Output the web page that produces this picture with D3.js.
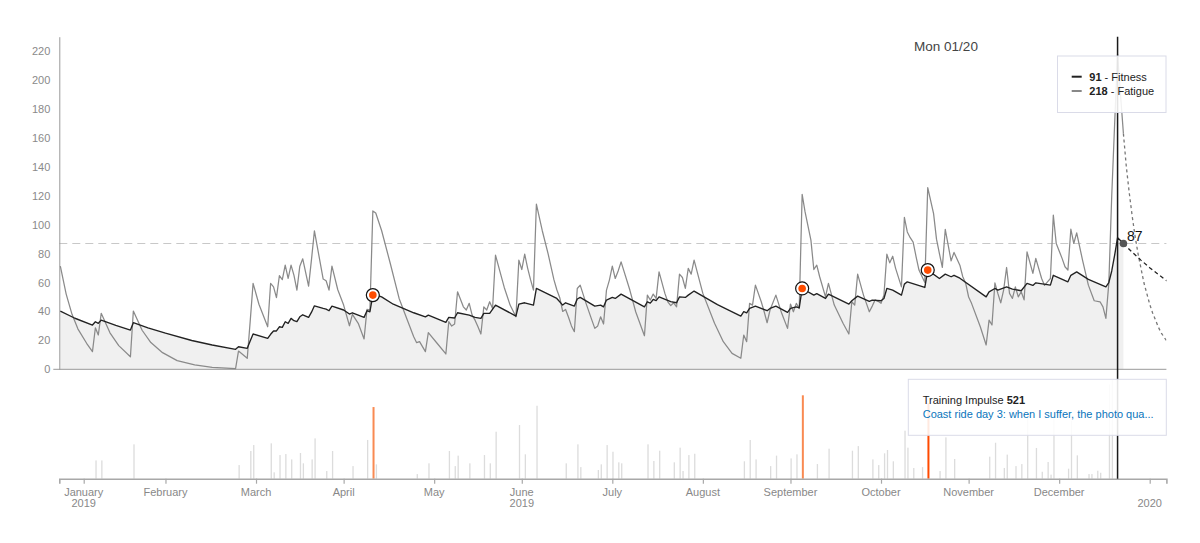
<!DOCTYPE html>
<html><head><meta charset="utf-8">
<script src="https://cdn.jsdelivr.net/npm/d3@7"></script>
<style>
body{margin:0;background:#fff;}
svg text{font-family:"Liberation Sans", Arial, Helvetica, sans-serif;}
</style></head><body>
<svg id="chart" width="1200" height="543"></svg>
<script>
// ---------- DATA (day index 0 = 2019-01-24) ----------
const fitness = [[0,40.3],[5,35.3],[11,30.6],[12,32.9],[13,31.8],[14,34],[19,30.4],[24,27.1],[25,32.2],[30,28.7],[36,25],[45,19.9],[52,16.8],[60,13.8],[61,15.6],[64,14.5],[65,19.5],[66,24.4],[71,21.4],[72,24.2],[73,26.5],[74,26.5],[75,29.4],[76,29],[77,32.9],[78,31.8],[79,35.2],[80,33.6],[81,33],[82,36.3],[83,37.7],[85,35.9],[86,39.5],[87,43.9],[90,42.1],[91,41.6],[92,40.5],[93,43.7],[97,41],[99,38.2],[100,39.1],[104,35.9],[105,40.5],[106,39.8],[107,51.3],[108,51.5],[110,50.1],[114,45],[121,39.1],[125,36.3],[126,37.5],[132,32.5],[133,35.9],[135,35.5],[136,39.1],[140,37.5],[142,35.9],[144,35.2],[145,38.7],[147,38.7],[149,44.4],[156,36.8],[157,45.1],[159,46],[162,44.4],[163,55.9],[170,49],[172,44.4],[173,46],[176,43.7],[177,48.6],[178,49.7],[183,43.7],[185,44.4],[186,43.2],[187,47.9],[189,49.7],[190,49],[192,52],[200,43.2],[201,46.7],[202,45.8],[203,48.3],[204,47.5],[205,50.1],[209,46.8],[211,46],[212,50.1],[214,49.7],[215,51.3],[217,54.1],[225,44.7],[233,36.8],[234,39.8],[235,39],[236,42.1],[238,43.7],[242,40.5],[243,42.1],[245,43.7],[249,39.4],[250,42.1],[252,43.2],[253,42.5],[254,55.9],[258,51.3],[259,52.3],[262,49],[263,52],[270,45.1],[271,47.4],[273,50.6],[277,47],[278,47.8],[281,47.4],[282,49],[283,55.9],[285,54.8],[288,51.3],[289,58.9],[290,60.5],[296,56.6],[297,68.6],[301,62.8],[303,65.8],[305,64],[306,65],[308,63],[317,50.1],[318,53.6],[320,55.9],[321,54.8],[324,57],[326,55.5],[329,54.3],[331,59.4],[333,58],[334,59.8],[339,58.2],[340,65],[345,60.5],[346,65],[348,67.4],[352,62.2],[358,57],[359,60],[360,68],[361,79],[362,91],[363,89],[364,87]];

const fatigue = [[0,71.3],[2,52],[4,38],[6,28],[9,18],[11,12.2],[12,28.7],[13,23.7],[14,38.7],[17,25.2],[20,16.4],[24,8.7],[25,40.3],[28,27],[31,18.5],[35,11.5],[40,6],[46,3],[52,1.4],[60,0.4],[61,12.6],[64,7.6],[65,33],[66,59.4],[68,45],[71,29.4],[72,59.4],[73,57],[74,49.6],[75,64.7],[76,62],[77,72],[78,62.8],[79,72],[80,65],[81,54.8],[82,71.3],[83,76.4],[85,57.5],[86,76],[87,95.7],[90,62.4],[91,61.2],[92,54.8],[93,71.3],[95,55],[97,44.4],[99,30.1],[100,38],[102,31.8],[104,21],[105,41.4],[106,41],[107,109.5],[108,108.1],[110,96],[113,73],[116,49],[119,33],[121,22.5],[122,18.4],[123,19.1],[125,12.2],[126,25.3],[129,18],[132,10.6],[133,32.9],[134,29.9],[135,31.3],[136,53.6],[138,43.2],[139,41],[140,45.6],[141,37.5],[142,34],[143,29.4],[144,24.4],[145,43.2],[146,41],[147,46.7],[148,42],[149,78.9],[152,56.6],[154,44.4],[156,36.3],[157,75.5],[158,69],[159,79.6],[160,70],[161,62],[162,54.8],[163,114.2],[165,96],[167,80],[169,62],[170,55],[171,49.5],[172,40],[173,41.4],[174,36],[175,30],[176,26],[177,55.9],[178,58.2],[180,45.6],[182,34],[183,28.3],[184,30],[185,36.3],[186,31.3],[187,54.8],[188,61.7],[189,71.3],[190,62.8],[191,68],[192,74.3],[195,54.8],[197,39.8],[200,23.2],[201,51.3],[202,47.9],[203,52],[204,49],[205,67.4],[207,52.5],[208,46.7],[209,44],[210,46],[211,43.2],[212,65.8],[213,63.5],[214,55.9],[215,69.8],[216,65.8],[217,75.5],[220,52.5],[224,31.8],[227,19.1],[230,11],[233,7.6],[234,23.7],[235,19.1],[236,45.6],[237,44.4],[238,58.2],[240,46.7],[241,39.8],[242,32.2],[243,41],[245,51.3],[247,38.7],[249,28.3],[250,45.1],[251,39.8],[252,45.6],[253,42],[254,121],[255,108.8],[257,89.3],[258,69],[259,72],[260,64],[262,50.1],[263,59.4],[265,44.4],[268,31.8],[270,24.4],[271,46.7],[272,44.4],[273,65.8],[275,51.3],[276,45.6],[277,39.8],[278,43.7],[279,48],[280,47],[281,45.6],[282,51.3],[283,79.6],[284,73.6],[285,78.2],[286,69.8],[288,57],[289,105],[290,95],[291,91],[292,88],[293,78],[294,68.6],[296,60],[297,125.7],[299,107.7],[300,90],[301,80],[302,70.5],[303,96.7],[304,85.8],[305,75],[306,80.8],[308,72],[309,64],[310,59.4],[311,50],[312,45.6],[315,29.4],[317,16.8],[318,34],[319,30.6],[320,59.8],[321,52.5],[322,46],[323,55],[324,70.4],[325,52.5],[326,49],[327,57],[328,50.1],[329,53.6],[330,48],[331,81.2],[333,66.3],[334,76.7],[336,62.8],[337,58],[338,60.5],[339,62.8],[340,106.6],[341,87],[343,76.7],[344,70.9],[345,68.6],[346,96.9],[347,87],[348,94.3],[350,75.5],[352,58.2],[354,47.4],[356,46.7],[357,43.2],[358,35.2],[359,59.4],[360,120],[361,170],[362,218],[363,190],[364,163]];

const fitnessProjection = [[364,87],[367,81],[370,75.5],[373,70.3],[376,65.5],[379,61]];
const fatigueProjection = [[364,163],[365,140],[366,122],[367,106],[368,92],[369,80],[370,70],[371,60],[372,52.5],[373,45],[374,39],[375,34],[376,29],[377,25],[378,22],[379,19]];

const impulseDays = [12,14,25,61,65,66,72,73,75,77,79,82,83,86,87,91,93,100,105,107,108,122,126,133,135,136,140,145,147,149,157,159,163,173,177,178,184,185,187,189,191,192,201,203,205,210,212,213,215,217,234,236,238,243,245,250,252,254,259,263,271,273,278,280,282,283,285,289,290,292,295,297,301,303,306,318,320,323,324,327,329,331,334,336,338,339,340,345,346,348,352,353,355,356,359,360];
const impulseValues = [126,126,237,94,191,232,244,44,163,170,133,177,106,133,278,53,191,87,267,494,99,32,106,191,87,159,106,163,106,324,370,168,503,106,237,80,60,99,232,186,113,106,237,122,193,113,214,53,163,172,120,267,133,87,159,140,168,575,101,207,193,225,133,94,175,198,120,331,214,74,80,521,53,285,136,152,248,74,166,87,101,420,212,48,115,28,450,69,400,161,32,32,55,41,650,680];

const highlightDays = [107, 254, 297];
const selectedDay = 297;
const selectedTitle = "Coast ride day 3: when I suffer, the photo qua...";
const hoverDay = 362;
const hoverLabel = "Mon 01/20";
const todayDay = 364;
const yTicks = [0,20,40,60,80,100,120,140,160,180,200,220];
const tickDates = [[2019,1],[2019,2],[2019,3],[2019,4],[2019,5],[2019,6],[2019,7],[2019,8],[2019,9],[2019,10],[2019,11],[2020,0],[2020,1]];
const tickLabels = [["January","2019"],["February",""],["March",""],["April",""],["May",""],["June","2019"],["July",""],["August",""],["September",""],["October",""],["November",""],["December",""],["","2020"]];

// ---------- SCALES ----------
const dayDate = d => new Date(2019, 0, 24 + d);
const x = d3.scaleTime().domain([new Date(2019,0,23,15,30), new Date(2020,1,6,17,15)]).range([59.3, 1166.4]);
const y = d3.scaleLinear().domain([0, 230]).range([369.3, 36.7]);
const yImp = d3.scaleLinear().domain([0, 575]).range([478.7, 395.3]);
const xd = d => x(dayDate(d));

const svg = d3.select('#chart');
const valAt = (arr, d) => arr.find(p => p[0] === d)[1];

svg.append('defs').append('clipPath').attr('id','plotclip')
  .append('rect').attr('x',59.3).attr('y',30).attr('width',1166.4-59.3).attr('height',350);

// ---------- MAIN CHART ----------
const area = d3.area().x(p => xd(p[0])).y0(y(0)).y1(p => y(p[1]));
svg.append('path').datum(fitness).attr('d', area).attr('fill', '#f0f0f0');

const todayFit = valAt(fitness, todayDay);
svg.append('line').attr('x1', 59.3).attr('x2', 1166.4).attr('y1', y(todayFit)).attr('y2', y(todayFit))
  .attr('stroke', '#c8c8c8').attr('stroke-width', 1.2).attr('stroke-dasharray', '8,5');

const yAxis = svg.append('g').attr('transform', 'translate(59.3,0)')
  .call(d3.axisLeft(y).tickValues(yTicks).tickSize(0).tickPadding(9).tickSizeOuter(0));
yAxis.select('.domain').attr('stroke', '#999');
yAxis.selectAll('text').attr('fill', '#8a8a8a').style('font-size', '11px');

svg.append('line').attr('x1', 53.3).attr('x2', 1166.4).attr('y1', y(0)).attr('y2', y(0))
  .attr('stroke', '#999').attr('stroke-width', 1);

const line = d3.line().x(p => xd(p[0])).y(p => y(p[1]));
svg.append('path').datum(fatigue).attr('d', line).attr('fill', 'none')
  .attr('stroke', '#8a8a8a').attr('stroke-width', 1.25).attr('stroke-linejoin', 'round');
svg.append('path').datum(fitness).attr('d', line).attr('fill', 'none')
  .attr('stroke', '#222').attr('stroke-width', 1.35).attr('stroke-linejoin', 'round');

const proj = svg.append('g').attr('clip-path', 'url(#plotclip)');
proj.append('path').datum(fatigueProjection).attr('d', line).attr('fill', 'none')
  .attr('stroke', '#777').attr('stroke-width', 1.3).attr('stroke-dasharray', '3,3');
proj.append('path').datum(fitnessProjection).attr('d', line).attr('fill', 'none')
  .attr('stroke', '#222').attr('stroke-width', 1.3).attr('stroke-dasharray', '4,3');

const hc = svg.append('g').selectAll('g').data(highlightDays).join('g')
  .attr('transform', d => `translate(${xd(d)},${y(valAt(fitness, d))})`);
hc.append('circle').attr('r', 6.5).attr('fill', '#fff').attr('stroke', '#111').attr('stroke-width', 1.2);
hc.append('circle').attr('r', 3.8).attr('fill', '#ff4d00');

svg.append('circle').attr('cx', xd(todayDay)).attr('cy', y(todayFit)).attr('r', 3.8).attr('fill', '#555');
svg.append('text').attr('x', xd(todayDay) + 3.5).attr('y', y(todayFit) - 2.5)
  .attr('fill', '#111').style('font-size', '14px').text(Math.round(todayFit));

// ---------- BOTTOM CHART ----------
const impulses = impulseDays.map((d, i) => ({ d, v: impulseValues[i] }));
svg.append('g').selectAll('rect').data(impulses.filter(o => !highlightDays.includes(o.d))).join('rect')
  .attr('x', o => xd(o.d)).attr('width', 1.3)
  .attr('y', o => yImp(o.v)).attr('height', o => yImp(0) - yImp(o.v))
  .attr('fill', '#dcdcdc');
svg.append('g').selectAll('rect').data(impulses.filter(o => highlightDays.includes(o.d))).join('rect')
  .attr('x', o => xd(o.d) - 0.3).attr('width', 2)
  .attr('y', o => yImp(o.v)).attr('height', o => yImp(0) - yImp(o.v))
  .attr('fill', o => o.d === selectedDay ? '#ff4a00' : '#f98a52');

const xAxis = svg.append('g').attr('transform', `translate(0,${yImp(0)})`)
  .call(d3.axisBottom(x).tickValues(tickDates.map(t => new Date(t[0], t[1], 1)))
    .tickSize(5).tickSizeOuter(5).tickFormat(''));
xAxis.select('.domain').attr('stroke', '#a8a8a8').attr('stroke-width', 1.6);
xAxis.selectAll('.tick line').attr('stroke', '#a8a8a8').attr('stroke-width', 1.2);
const lab = svg.append('g').selectAll('g').data(tickDates).join('g')
  .attr('transform', t => `translate(${x(new Date(t[0], t[1], 1))},0)`);
lab.append('text').attr('y', 496).attr('text-anchor', 'middle').attr('fill', '#888')
  .style('font-size', '11px').text((t, i) => tickLabels[i][0]);
lab.append('text').attr('y', 507.3).attr('text-anchor', 'middle').attr('fill', '#888')
  .style('font-size', '11px').text((t, i) => tickLabels[i][1]);

// ---------- HOVER ----------
const hx = xd(hoverDay);
svg.append('line').attr('x1', hx).attr('x2', hx).attr('y1', 36.7).attr('y2', yImp(0))
  .attr('stroke', '#1a1a1a').attr('stroke-width', 1.5);

svg.append('text').attr('x', 946).attr('y', 51.3).attr('text-anchor', 'middle')
  .attr('fill', '#444').style('font-size', '13.5px').text(hoverLabel);

svg.append('rect').attr('x', 1057.5).attr('y', 56).attr('width', 108.5).attr('height', 56.5)
  .attr('fill', 'rgba(255,255,255,0.88)').attr('stroke', '#dadbe8').attr('stroke-width', 1);
const legendItems = [
  { v: valAt(fitness, hoverDay), name: 'Fitness', color: '#222', yy: 80.5 },
  { v: valAt(fatigue, hoverDay), name: 'Fatigue', color: '#888', yy: 94.8 }
];
legendItems.forEach(it => {
  svg.append('line').attr('x1', 1071.7).attr('x2', 1081.7).attr('y1', it.yy - 3.8).attr('y2', it.yy - 3.8)
    .attr('stroke', it.color).attr('stroke-width', 2);
  const t = svg.append('text').attr('x', 1089.3).attr('y', it.yy).attr('fill', '#222').style('font-size', '11px');
  t.append('tspan').attr('font-weight', 'bold').text(Math.round(it.v));
  t.append('tspan').text(' - ' + it.name);
});

svg.append('rect').attr('x', 908.3).attr('y', 379.3).attr('width', 258).attr('height', 56)
  .attr('fill', 'rgba(255,255,255,0.88)').attr('stroke', '#dadbe8').attr('stroke-width', 1);
const tt = svg.append('text').attr('x', 922.7).attr('y', 404).attr('fill', '#222').style('font-size', '11px');
tt.append('tspan').text('Training Impulse ');
tt.append('tspan').attr('font-weight', 'bold').text(impulseValues[impulseDays.indexOf(selectedDay)]);
svg.append('text').attr('x', 922.7).attr('y', 418).attr('fill', '#0a75bc').style('font-size', '11px')
  .text(selectedTitle);
</script>
</body></html>
